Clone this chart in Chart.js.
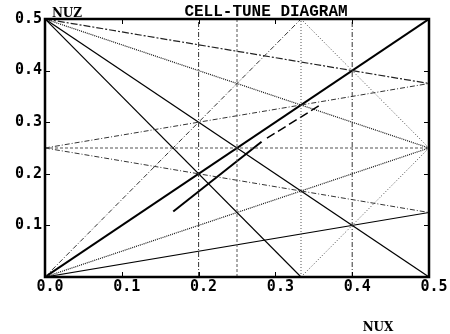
<!doctype html>
<html lang="en">
<head>
<meta charset="utf-8">
<title>CELL-TUNE DIAGRAM</title>
<script src="https://cdn.jsdelivr.net/npm/chart.js@4.4.1/dist/chart.umd.min.js"></script>
<style>
  html, body { margin: 0; padding: 0; background: #fff; }
</style>
</head>
<body>
<canvas id="tune" width="450" height="334"></canvas>
<script>
// axis range / ticks
const axisMin = 0;
const axisMax = 0.5;
const minorStep = 0.02;
const titleText = 'CELL-TUNE DIAGRAM';
const xName = 'NUX';
const yName = 'NUZ';

// resonance lines, endpoints in tune units
const diagonal      = [{x: 0, y: 0},   {x: 0.5, y: 0.5}];
const sumLine       = [{x: 0, y: 0.5}, {x: 0.5, y: 0}];
const thirdSum      = [{x: 0, y: 0.5}, {x: 1/3, y: 0}];
const halfFromTop   = [{x: 0, y: 0.5}, {x: 0.5, y: 0.25}];
const quarterTop    = [{x: 0, y: 0.5}, {x: 0.5, y: 0.375}];
const quarterLow    = [{x: 0, y: 0},   {x: 0.5, y: 0.125}];
const halfLow       = [{x: 0, y: 0},   {x: 0.5, y: 0.25}];
const steepLow      = [{x: 0, y: 0},   {x: 1/3, y: 0.5}];
const thirdTopRight = [{x: 1/3, y: 0.5}, {x: 0.5, y: 0.25}];
const thirdBotRight = [{x: 1/3, y: 0},   {x: 0.5, y: 0.25}];
const midUp         = [{x: 0, y: 0.25}, {x: 0.5, y: 0.375}];
const midDown       = [{x: 0, y: 0.25}, {x: 0.5, y: 0.125}];
const midFlat       = [{x: 0, y: 0.25}, {x: 0.5, y: 0.25}];
const vert020       = [{x: 0.2, y: 0},  {x: 0.2, y: 0.5}];
const vert025       = [{x: 0.25, y: 0}, {x: 0.25, y: 0.5}];
const vert033       = [{x: 1/3, y: 0},  {x: 1/3, y: 0.5}];
const vert040       = [{x: 0.4, y: 0},  {x: 0.4, y: 0.5}];

// working line
const workSolid  = [{x: 0.167, y: 0.127}, {x: 0.282, y: 0.262}];
const workDashed = [{x: 0.289, y: 0.269}, {x: 0.358, y: 0.333}];

const DOT = [1, 2];
const DASH = [3, 2];
const DASHDOT = [5, 2, 1, 2];

function ln(data, width, dash, color) {
  return {
    data: data,
    showLine: true,
    borderColor: color || '#000',
    borderWidth: width,
    borderDash: dash || [],
    pointRadius: 0,
    fill: false
  };
}

const isMajor = v => Math.round(v * 100) % 10 === 0;

const frame = {
  id: 'frame',
  afterDatasetsDraw(chart) {
    const {ctx, chartArea: a, scales: {x, y}} = chart;
    ctx.save();
    ctx.strokeStyle = '#000';
    ctx.lineWidth = 1;
    ctx.beginPath();
    x.ticks.forEach(t => {
      const px = Math.round(x.getPixelForValue(t.value)) + 0.5;
      const len = isMajor(t.value) ? 5 : 3;
      ctx.moveTo(px, a.bottom); ctx.lineTo(px, a.bottom - len);
      ctx.moveTo(px, a.top); ctx.lineTo(px, a.top + len);
    });
    y.ticks.forEach(t => {
      const py = Math.round(y.getPixelForValue(t.value)) + 0.5;
      const len = isMajor(t.value) ? 5 : 3;
      ctx.moveTo(a.left, py); ctx.lineTo(a.left + len, py);
      ctx.moveTo(a.right, py); ctx.lineTo(a.right - len, py);
    });
    ctx.stroke();
    ctx.lineWidth = 2.5;
    ctx.strokeRect(a.left, a.top, a.right - a.left, a.bottom - a.top);

    ctx.fillStyle = '#000';
    ctx.textAlign = 'center';
    ctx.textBaseline = 'alphabetic';
    ctx.font = 'bold 16px "Liberation Mono"';
    ctx.fillText(titleText, 266, 16);
    ctx.font = 'bold 12px "DejaVu Serif"';
    ctx.fillText(yName, 67, 17);
    ctx.fillText(xName, 378, 331);
    ctx.restore();
  }
};

const tickFont = {family: '"DejaVu Sans Mono"', size: 15, weight: 'bold'};

new Chart('tune', {
  type: 'scatter',
  data: {
    datasets: [
      ln(vert020, 1, DASHDOT, '#333'),
      ln(vert025, 1, DASH, '#555'),
      ln(vert033, 1, DOT, '#555'),
      ln(vert040, 1, DASHDOT, '#333'),
      ln(midFlat, 1.2, DASH, '#555'),
      ln(midUp, 1, DASHDOT, '#333'),
      ln(midDown, 1, DASHDOT, '#333'),
      ln(thirdTopRight, 1, DOT, '#444'),
      ln(thirdBotRight, 1, DOT, '#444'),
      ln(steepLow, 1, DASHDOT, '#333'),
      ln(quarterTop, 1.2, [7, 2, 2, 2], '#222'),
      ln(halfFromTop, 1.2, [1, 1], '#111'),
      ln(halfLow, 1.2, [1, 1], '#111'),
      ln(quarterLow, 1.2, [], '#000'),
      ln(sumLine, 1.2, [], '#000'),
      ln(thirdSum, 1.2, [], '#000'),
      ln(diagonal, 2, [], '#000'),
      ln(workSolid, 2, [], '#000'),
      ln(workDashed, 1.5, [9, 4], '#000')
    ]
  },
  plugins: [frame],
  options: {
    responsive: false,
    animation: false,
    events: [],
    layout: {padding: {top: 19, right: 21, left: 0, bottom: 0}},
    plugins: {
      legend: {display: false},
      tooltip: {enabled: false}
    },
    scales: {
      x: {
        type: 'linear',
        min: axisMin,
        max: axisMax,
        grid: {display: false, drawTicks: false},
        border: {display: false},
        afterFit: s => { s.height = 57; },
        ticks: {
          stepSize: minorStep,
          autoSkip: false,
          maxRotation: 0,
          padding: 1,
          labelOffset: 5,
          color: '#000',
          font: tickFont,
          callback: v => isMajor(v) ? (Math.round(v * 10) / 10).toFixed(1) : null
        }
      },
      y: {
        type: 'linear',
        min: axisMin,
        max: axisMax,
        grid: {display: false, drawTicks: false},
        border: {display: false},
        afterFit: s => { s.width = 45; },
        ticks: {
          stepSize: minorStep,
          autoSkip: false,
          padding: 3,
          color: '#000',
          font: tickFont,
          callback: v => (isMajor(v) && v > 0.001) ? (Math.round(v * 10) / 10).toFixed(1) : null
        }
      }
    }
  }
});
</script>
</body>
</html>
